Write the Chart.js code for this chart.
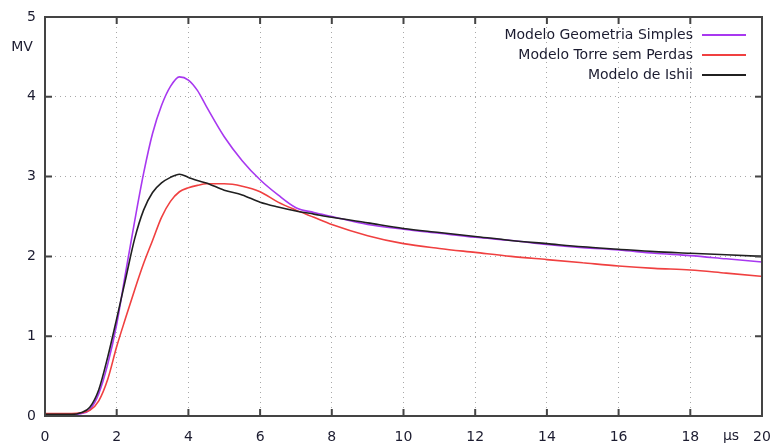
<!DOCTYPE html>
<html>
<head>
<meta charset="utf-8">
<script src="https://cdn.jsdelivr.net/npm/chart.js@4/dist/chart.umd.min.js"></script>
<style>
  html, body { margin: 0; padding: 0; background: #fff; }
  #wrap { width: 772px; height: 444px; }
</style>
</head>
<body>
<div id="wrap"><canvas id="myCanvas" width="772" height="444"></canvas></div>
<script>
// time in microseconds
let times = [0, 0.5, 0.75, 1, 1.25, 1.5, 1.75, 2, 2.25, 2.5, 2.75, 3, 3.25, 3.5, 3.75, 4,
    4.25, 4.5, 5, 5.5, 6, 6.5, 7, 7.5, 8, 9, 10, 11, 12, 13, 14, 15, 16, 17, 18, 19, 20];

// voltage in MV
let geometriaSimples = [0.02, 0.02, 0.02, 0.03, 0.08, 0.28, 0.65, 1.15, 1.8, 2.44, 3.04, 3.54,
    3.89, 4.13, 4.25, 4.21, 4.08, 3.88, 3.5, 3.2, 2.96, 2.77, 2.61, 2.55, 2.5, 2.4, 2.34,
    2.29, 2.24, 2.2, 2.15, 2.11, 2.08, 2.04, 2.01, 1.97, 1.93];
let torreSemPerdas = [0.03, 0.03, 0.03, 0.04, 0.07, 0.19, 0.46, 0.87, 1.23, 1.58, 1.91, 2.2,
    2.49, 2.69, 2.81, 2.86, 2.89, 2.91, 2.91, 2.88, 2.81, 2.68, 2.58, 2.49, 2.4, 2.26, 2.16,
    2.1, 2.05, 2.0, 1.96, 1.92, 1.88, 1.85, 1.83, 1.79, 1.75];
let ishii = [0.02, 0.02, 0.02, 0.04, 0.11, 0.33, 0.74, 1.22, 1.72, 2.22, 2.58, 2.8,
    2.92, 2.99, 3.03, 2.99, 2.95, 2.92, 2.83, 2.77, 2.68, 2.62, 2.57, 2.53, 2.49, 2.42, 2.35,
    2.3, 2.25, 2.2, 2.16, 2.12, 2.09, 2.06, 2.04, 2.02, 2.0];

let seriesNames = ["Modelo Geometria Simples", "Modelo Torre sem Perdas", "Modelo de Ishii"];
let seriesColors = ['#a838f0', '#f04040', '#202020'];

let textFont = '14px "DejaVu Sans", sans-serif';
let textColor = '#1c1c30';

function toPoints(values) {
    return times.map((t, i) => ({ x: t, y: values[i] }));
}

// frame, inward ticks on all four sides, legend and unit labels (gnuplot look)
let gnuplotDecor = {
    id: 'gnuplotDecor',
    afterDatasetsDraw(chart) {
        let ctx = chart.ctx;
        let area = chart.chartArea;
        let xs = chart.scales.x;
        let ys = chart.scales.y;
        ctx.save();

        ctx.strokeStyle = '#444';
        ctx.lineWidth = 2;
        ctx.strokeRect(area.left, area.top, area.right - area.left, area.bottom - area.top);

        let tl = 7;
        ctx.beginPath();
        xs.ticks.forEach(t => {
            let px = xs.getPixelForValue(t.value);
            ctx.moveTo(px, area.bottom); ctx.lineTo(px, area.bottom - tl);
            ctx.moveTo(px, area.top); ctx.lineTo(px, area.top + tl);
        });
        ys.ticks.forEach(t => {
            let py = ys.getPixelForValue(t.value);
            ctx.moveTo(area.left, py); ctx.lineTo(area.left + tl, py);
            ctx.moveTo(area.right, py); ctx.lineTo(area.right - tl, py);
        });
        ctx.stroke();

        // legend: text right aligned, sample line on the right
        ctx.font = textFont;
        ctx.textAlign = 'right';
        ctx.textBaseline = 'middle';
        chart.data.datasets.forEach((ds, i) => {
            let y = 35 + i * 20;
            ctx.fillStyle = textColor;
            ctx.fillText(ds.label, 693, y);
            ctx.strokeStyle = ds.borderColor;
            ctx.lineWidth = 2;
            ctx.beginPath();
            ctx.moveTo(702, y);
            ctx.lineTo(746, y);
            ctx.stroke();
        });

        // axis units
        ctx.fillStyle = textColor;
        ctx.textAlign = 'center';
        ctx.fillText('MV', 22, 47);
        ctx.fillText('μs', 731, 436);
        ctx.restore();
    }
};

function drawChart() {
    let canvas = document.getElementById("myCanvas");
    let ctx = canvas.getContext("2d");

    new Chart(ctx, {
        type: 'line',
        data: {
            datasets: [{
                label: seriesNames[0],
                borderColor: seriesColors[0],
                data: toPoints(geometriaSimples),
                order: 2
            }, {
                label: seriesNames[1],
                borderColor: seriesColors[1],
                data: toPoints(torreSemPerdas),
                order: 1
            }, {
                label: seriesNames[2],
                borderColor: seriesColors[2],
                data: toPoints(ishii),
                order: 0
            }]
        },
        options: {
            responsive: false,
            animation: false,
            layout: { padding: { top: 17, right: 10, left: 0, bottom: 0 } },
            elements: {
                line: { borderWidth: 1.6, cubicInterpolationMode: 'monotone', fill: false },
                point: { radius: 0 }
            },
            plugins: {
                legend: { display: false },
                tooltip: { enabled: false }
            },
            scales: {
                x: {
                    type: 'linear',
                    min: 0,
                    max: 20,
                    afterFit: scale => {
                        scale.height = 28;
                        scale.paddingLeft = 0;
                        scale.paddingRight = 0;
                    },
                    ticks: {
                        stepSize: 2,
                        autoSkip: false,
                        maxRotation: 0,
                        padding: 13,
                        color: textColor,
                        font: { family: '"DejaVu Sans", sans-serif', size: 14 }
                    },
                    grid: { color: '#a8a8a8', lineWidth: 1, drawTicks: false },
                    border: { display: false, dash: [1, 4] }
                },
                y: {
                    min: 0,
                    max: 5,
                    afterFit: scale => {
                        scale.width = 45;
                        scale.paddingTop = 0;
                        scale.paddingBottom = 0;
                    },
                    ticks: {
                        stepSize: 1,
                        padding: 9,
                        color: textColor,
                        font: { family: '"DejaVu Sans", sans-serif', size: 14 }
                    },
                    grid: { color: '#a8a8a8', lineWidth: 1, drawTicks: false },
                    border: { display: false, dash: [1, 4] }
                }
            }
        },
        plugins: [gnuplotDecor]
    });
}

drawChart();
</script>
</body>
</html>
